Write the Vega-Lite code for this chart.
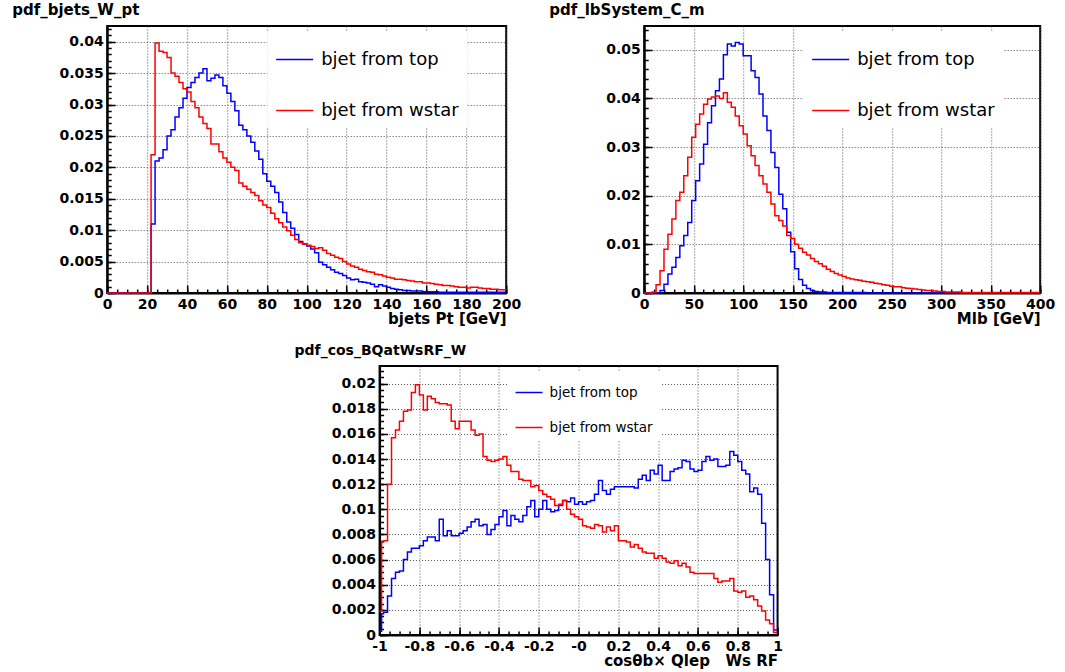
{
"$schema": "https://vega.github.io/schema/vega-lite/v6.json",
"padding": {"left": 11, "top": 2, "right": 5, "bottom": 5},
"background": "white",
"config": {
  "view": {"stroke": "black", "strokeWidth": 2},
  "axis": {"labelFont": "DejaVu Sans", "labelFontSize": 14, "labelFontWeight": "bold", "labelColor": "black", "labelFlush": false, "labelOverlap": false, "tickColor": "black", "tickWidth": 1.5, "domainColor": "black", "domainWidth": 2, "gridColor": "#555555", "gridDash": [1, 2], "gridWidth": 1, "gridOpacity": 1, "titleFont": "DejaVu Sans", "titleFontSize": 15, "titleFontWeight": "bold", "titleColor": "black"},
  "title": {"font": "DejaVu Sans", "fontSize": 15, "fontWeight": "bold", "color": "black", "anchor": "start", "frame": "group", "offset": 8},
  "line": {"interpolate": "step-after", "strokeWidth": 1.5}
},
"datasets": {
"pt": [
{"x":0,"top":0,"wstar":0},{"x":2,"top":0,"wstar":0},{"x":4,"top":0,"wstar":0},{"x":6,"top":0,"wstar":0},{"x":8,"top":0,"wstar":0},{"x":10,"top":0,"wstar":0},{"x":12,"top":0,"wstar":0},{"x":14,"top":0,"wstar":0},{"x":16,"top":0,"wstar":0},{"x":18,"top":0,"wstar":0},{"x":20,"top":0,"wstar":0},
{"x":22,"top":0.011,"wstar":0.022},{"x":24,"top":0.021,"wstar":0.0398},{"x":26,"top":0.0215,"wstar":0.0385},{"x":28,"top":0.0228,"wstar":0.0383},{"x":30,"top":0.025,"wstar":0.0375},{"x":32,"top":0.026,"wstar":0.035},{"x":34,"top":0.028,"wstar":0.0345},{"x":36,"top":0.0295,"wstar":0.0335},{"x":38,"top":0.031,"wstar":0.0325},{"x":40,"top":0.0327,"wstar":0.032},
{"x":42,"top":0.0335,"wstar":0.0305},{"x":44,"top":0.0343,"wstar":0.0295},{"x":46,"top":0.035,"wstar":0.028},{"x":48,"top":0.0357,"wstar":0.027},{"x":50,"top":0.0338,"wstar":0.0262},{"x":52,"top":0.0342,"wstar":0.0237},{"x":54,"top":0.0347,"wstar":0.0237},{"x":56,"top":0.0343,"wstar":0.0225},{"x":58,"top":0.033,"wstar":0.0215},{"x":60,"top":0.0318,"wstar":0.0208},
{"x":62,"top":0.0305,"wstar":0.02},{"x":64,"top":0.029,"wstar":0.0195},{"x":66,"top":0.0267,"wstar":0.0175},{"x":68,"top":0.026,"wstar":0.017},{"x":70,"top":0.025,"wstar":0.0165},{"x":72,"top":0.024,"wstar":0.016},{"x":74,"top":0.0226,"wstar":0.0155},{"x":76,"top":0.0213,"wstar":0.0147},{"x":78,"top":0.019,"wstar":0.014},{"x":80,"top":0.0178,"wstar":0.0136},
{"x":82,"top":0.017,"wstar":0.0127},{"x":84,"top":0.016,"wstar":0.0118},{"x":86,"top":0.0145,"wstar":0.0112},{"x":88,"top":0.0128,"wstar":0.0105},{"x":90,"top":0.0113,"wstar":0.0099},{"x":92,"top":0.0103,"wstar":0.0092},{"x":94,"top":0.0093,"wstar":0.0085},{"x":96,"top":0.0082,"wstar":0.008},{"x":98,"top":0.0078,"wstar":0.0078},{"x":100,"top":0.0075,"wstar":0.0076},
{"x":102,"top":0.007,"wstar":0.0074},{"x":104,"top":0.0064,"wstar":0.0071},{"x":106,"top":0.0049,"wstar":0.0072},{"x":108,"top":0.0045,"wstar":0.0068},{"x":110,"top":0.0041,"wstar":0.0063},{"x":112,"top":0.0037,"wstar":0.006},{"x":114,"top":0.0033,"wstar":0.0057},{"x":116,"top":0.0031,"wstar":0.0055},{"x":118,"top":0.0028,"wstar":0.005},{"x":120,"top":0.0024,"wstar":0.0046},
{"x":122,"top":0.0021,"wstar":0.0043},{"x":124,"top":0.0022,"wstar":0.0041},{"x":126,"top":0.0018,"wstar":0.0038},{"x":128,"top":0.0017,"wstar":0.0036},{"x":130,"top":0.0016,"wstar":0.0034},{"x":132,"top":0.0014,"wstar":0.0033},{"x":134,"top":0.001,"wstar":0.003},{"x":136,"top":0.0013,"wstar":0.0029},{"x":138,"top":0.0011,"wstar":0.0027},{"x":140,"top":0.0009,"wstar":0.0025},
{"x":142,"top":0.0007,"wstar":0.0024},{"x":144,"top":0.0006,"wstar":0.0022},{"x":146,"top":0.0005,"wstar":0.0022},{"x":148,"top":0.0004,"wstar":0.0021},{"x":150,"top":0.0004,"wstar":0.002},{"x":152,"top":0.0003,"wstar":0.0019},{"x":154,"top":0.0003,"wstar":0.0018},{"x":156,"top":0.0003,"wstar":0.0018},{"x":158,"top":0.0002,"wstar":0.0016},{"x":160,"top":0.0002,"wstar":0.0016},
{"x":162,"top":0.0002,"wstar":0.0015},{"x":164,"top":0.0002,"wstar":0.0014},{"x":166,"top":0.0001,"wstar":0.0013},{"x":168,"top":0.0001,"wstar":0.0012},{"x":170,"top":0.0001,"wstar":0.0012},{"x":172,"top":0.0001,"wstar":0.0011},{"x":174,"top":0.0001,"wstar":0.001},{"x":176,"top":0.0001,"wstar":0.0009},{"x":178,"top":0.0001,"wstar":0.0009},{"x":180,"top":0.0001,"wstar":0.0008},
{"x":182,"top":0.0001,"wstar":0.0009},{"x":184,"top":0.0001,"wstar":0.0009},{"x":186,"top":0.0001,"wstar":0.0008},{"x":188,"top":0.0001,"wstar":0.0007},{"x":190,"top":0.0001,"wstar":0.0007},{"x":192,"top":0.0001,"wstar":0.0006},{"x":194,"top":0.0001,"wstar":0.0006},{"x":196,"top":0.0001,"wstar":0.0005},{"x":198,"top":0.0001,"wstar":0.0005},{"x":200,"top":0.0001,"wstar":0.0005}
],
"mlb": [
{"x":0,"top":0,"wstar":0},{"x":4,"top":0,"wstar":0},{"x":8,"top":0,"wstar":0.0002},{"x":12,"top":0,"wstar":0.0017},{"x":16,"top":0.0005,"wstar":0.0046},{"x":20,"top":0.0018,"wstar":0.009},{"x":24,"top":0.0039,"wstar":0.0121},{"x":28,"top":0.0053,"wstar":0.0152},{"x":32,"top":0.0073,"wstar":0.019},{"x":36,"top":0.0097,"wstar":0.0207},
{"x":40,"top":0.0118,"wstar":0.0241},{"x":44,"top":0.0145,"wstar":0.0279},{"x":48,"top":0.019,"wstar":0.032},{"x":52,"top":0.0231,"wstar":0.0347},{"x":56,"top":0.0265,"wstar":0.0368},{"x":60,"top":0.0306,"wstar":0.0388},{"x":64,"top":0.035,"wstar":0.0399},{"x":68,"top":0.0385,"wstar":0.0403},{"x":72,"top":0.0416,"wstar":0.0405},{"x":76,"top":0.044,"wstar":0.04},
{"x":80,"top":0.049,"wstar":0.0412},{"x":84,"top":0.0512,"wstar":0.0392},{"x":88,"top":0.0508,"wstar":0.0382},{"x":92,"top":0.0515,"wstar":0.0364},{"x":96,"top":0.0512,"wstar":0.0344},{"x":100,"top":0.0488,"wstar":0.0327},{"x":104,"top":0.0488,"wstar":0.0303},{"x":108,"top":0.0457,"wstar":0.0282},{"x":112,"top":0.0443,"wstar":0.0262},{"x":116,"top":0.0409,"wstar":0.0241},
{"x":120,"top":0.0364,"wstar":0.0224},{"x":124,"top":0.0334,"wstar":0.0207},{"x":128,"top":0.0289,"wstar":0.0183},{"x":132,"top":0.0258,"wstar":0.0159},{"x":136,"top":0.0203,"wstar":0.0149},{"x":140,"top":0.0173,"wstar":0.0138},{"x":144,"top":0.0125,"wstar":0.0118},{"x":148,"top":0.0085,"wstar":0.0112},{"x":152,"top":0.005,"wstar":0.01},{"x":156,"top":0.0028,"wstar":0.0092},
{"x":160,"top":0.0016,"wstar":0.0084},{"x":164,"top":0.0009,"wstar":0.0078},{"x":168,"top":0.0005,"wstar":0.0071},{"x":172,"top":0.0003,"wstar":0.0065},{"x":176,"top":0.0002,"wstar":0.006},{"x":180,"top":0.0002,"wstar":0.0055},{"x":184,"top":0.0001,"wstar":0.0049},{"x":188,"top":0.0001,"wstar":0.0044},{"x":192,"top":0.0001,"wstar":0.004},{"x":196,"top":0.0001,"wstar":0.0037},
{"x":200,"top":0.0001,"wstar":0.0034},{"x":204,"top":0.0001,"wstar":0.0031},{"x":208,"top":0.0001,"wstar":0.0029},{"x":212,"top":0.0001,"wstar":0.0027},{"x":216,"top":0.0001,"wstar":0.0026},{"x":220,"top":0.0001,"wstar":0.0024},{"x":224,"top":0,"wstar":0.0023},{"x":228,"top":0,"wstar":0.0022},{"x":232,"top":0,"wstar":0.002},{"x":236,"top":0,"wstar":0.0019},
{"x":240,"top":0,"wstar":0.0017},{"x":244,"top":0,"wstar":0.0016},{"x":248,"top":0,"wstar":0.0014},{"x":252,"top":0,"wstar":0.0013},{"x":256,"top":0,"wstar":0.0013},{"x":260,"top":0,"wstar":0.0011},{"x":264,"top":0,"wstar":0.001},{"x":268,"top":0,"wstar":0.0009},{"x":272,"top":0,"wstar":0.0008},{"x":276,"top":0,"wstar":0.0007},
{"x":280,"top":0,"wstar":0.0006},{"x":284,"top":0,"wstar":0.0005},{"x":288,"top":0,"wstar":0.0005},{"x":292,"top":0,"wstar":0.0004},{"x":296,"top":0,"wstar":0.0003},{"x":300,"top":0,"wstar":0.0003},{"x":304,"top":0,"wstar":0.0002},{"x":308,"top":0,"wstar":0.0002},{"x":312,"top":0,"wstar":0.0002},{"x":316,"top":0,"wstar":0.0002},
{"x":320,"top":0,"wstar":0.0001},{"x":324,"top":0,"wstar":0.0001},{"x":328,"top":0,"wstar":0.0001},{"x":332,"top":0,"wstar":0.0001},{"x":336,"top":0,"wstar":0.0001},{"x":340,"top":0,"wstar":0.0001},{"x":344,"top":0,"wstar":0.0001},{"x":348,"top":0,"wstar":0.0001},{"x":352,"top":0,"wstar":0.0001},{"x":356,"top":0,"wstar":0.0001},
{"x":360,"top":0,"wstar":0.0001},{"x":364,"top":0,"wstar":0.0001},{"x":368,"top":0,"wstar":0.0001},{"x":372,"top":0,"wstar":0.0001},{"x":376,"top":0,"wstar":0.0001},{"x":380,"top":0,"wstar":0.0001},{"x":384,"top":0,"wstar":0.0001},{"x":388,"top":0,"wstar":0.0001},{"x":392,"top":0,"wstar":0.0001},{"x":396,"top":0,"wstar":0.0001},{"x":400,"top":0,"wstar":0.0001}
],
"cos": [
{"x":-1,"top":0.0003,"wstar":0.0019},{"x":-0.99,"top":0.0017,"wstar":0.0074},{"x":-0.98,"top":0.0018,"wstar":0.0075},{"x":-0.96,"top":0.0031,"wstar":0.012},{"x":-0.94,"top":0.0045,"wstar":0.0157},{"x":-0.92,"top":0.005,"wstar":0.0163},{"x":-0.9,"top":0.0051,"wstar":0.017},{"x":-0.88,"top":0.006,"wstar":0.0178},{"x":-0.86,"top":0.0066,"wstar":0.0179},{"x":-0.84,"top":0.0069,"wstar":0.0193},
{"x":-0.82,"top":0.0069,"wstar":0.0199},{"x":-0.8,"top":0.0071,"wstar":0.0191},{"x":-0.78,"top":0.0075,"wstar":0.0179},{"x":-0.76,"top":0.0078,"wstar":0.019},{"x":-0.74,"top":0.0078,"wstar":0.0188},{"x":-0.72,"top":0.0075,"wstar":0.0185},{"x":-0.7,"top":0.0092,"wstar":0.0184},{"x":-0.68,"top":0.0079,"wstar":0.0184},{"x":-0.66,"top":0.0083,"wstar":0.0183},{"x":-0.64,"top":0.0079,"wstar":0.017},
{"x":-0.62,"top":0.0079,"wstar":0.0164},{"x":-0.6,"top":0.0081,"wstar":0.017},{"x":-0.58,"top":0.0083,"wstar":0.017},{"x":-0.56,"top":0.0086,"wstar":0.017},{"x":-0.54,"top":0.009,"wstar":0.0163},{"x":-0.52,"top":0.0092,"wstar":0.0159},{"x":-0.5,"top":0.0087,"wstar":0.016},{"x":-0.48,"top":0.0088,"wstar":0.0142},{"x":-0.46,"top":0.008,"wstar":0.0139},{"x":-0.44,"top":0.0084,"wstar":0.0138},
{"x":-0.42,"top":0.0088,"wstar":0.0139},{"x":-0.4,"top":0.0094,"wstar":0.014},{"x":-0.38,"top":0.0099,"wstar":0.0142},{"x":-0.36,"top":0.0087,"wstar":0.0135},{"x":-0.34,"top":0.0095,"wstar":0.013},{"x":-0.32,"top":0.0092,"wstar":0.013},{"x":-0.3,"top":0.009,"wstar":0.0124},{"x":-0.28,"top":0.0095,"wstar":0.0123},{"x":-0.26,"top":0.0102,"wstar":0.0123},{"x":-0.24,"top":0.0107,"wstar":0.0118},
{"x":-0.22,"top":0.0094,"wstar":0.0119},{"x":-0.2,"top":0.01,"wstar":0.0115},{"x":-0.18,"top":0.0107,"wstar":0.0112},{"x":-0.16,"top":0.01,"wstar":0.011},{"x":-0.14,"top":0.0098,"wstar":0.0108},{"x":-0.12,"top":0.0099,"wstar":0.0103},{"x":-0.1,"top":0.0103,"wstar":0.0104},{"x":-0.08,"top":0.0107,"wstar":0.0107},{"x":-0.06,"top":0.0106,"wstar":0.01},{"x":-0.04,"top":0.0109,"wstar":0.0096},
{"x":-0.02,"top":0.0104,"wstar":0.0094},{"x":0,"top":0.0106,"wstar":0.0092},{"x":0.02,"top":0.0104,"wstar":0.0087},{"x":0.04,"top":0.0106,"wstar":0.0086},{"x":0.06,"top":0.0107,"wstar":0.0085},{"x":0.08,"top":0.0112,"wstar":0.0088},{"x":0.1,"top":0.0123,"wstar":0.0087},{"x":0.12,"top":0.0115,"wstar":0.0082},{"x":0.14,"top":0.0112,"wstar":0.0086},{"x":0.16,"top":0.0116,"wstar":0.0083},
{"x":0.18,"top":0.0118,"wstar":0.0087},{"x":0.2,"top":0.0118,"wstar":0.0075},{"x":0.22,"top":0.0118,"wstar":0.0075},{"x":0.24,"top":0.0118,"wstar":0.0074},{"x":0.26,"top":0.0118,"wstar":0.007},{"x":0.28,"top":0.0117,"wstar":0.0072},{"x":0.3,"top":0.0124,"wstar":0.0069},{"x":0.32,"top":0.0127,"wstar":0.0066},{"x":0.34,"top":0.0123,"wstar":0.0065},{"x":0.36,"top":0.0131,"wstar":0.0065},
{"x":0.38,"top":0.0128,"wstar":0.0061},{"x":0.4,"top":0.0135,"wstar":0.0063},{"x":0.42,"top":0.0123,"wstar":0.0061},{"x":0.44,"top":0.0123,"wstar":0.0058},{"x":0.46,"top":0.013,"wstar":0.0057},{"x":0.48,"top":0.0132,"wstar":0.0059},{"x":0.5,"top":0.0133,"wstar":0.0055},{"x":0.52,"top":0.0139,"wstar":0.0057},{"x":0.54,"top":0.0138,"wstar":0.0054},{"x":0.56,"top":0.0132,"wstar":0.005},
{"x":0.58,"top":0.013,"wstar":0.0049},{"x":0.6,"top":0.0131,"wstar":0.0049},{"x":0.62,"top":0.0138,"wstar":0.0049},{"x":0.64,"top":0.0142,"wstar":0.0049},{"x":0.66,"top":0.0139,"wstar":0.0049},{"x":0.68,"top":0.014,"wstar":0.0045},{"x":0.7,"top":0.0134,"wstar":0.0042},{"x":0.72,"top":0.0134,"wstar":0.0043},{"x":0.74,"top":0.0135,"wstar":0.0043},{"x":0.76,"top":0.0146,"wstar":0.0045},
{"x":0.78,"top":0.0143,"wstar":0.0035},{"x":0.8,"top":0.0138,"wstar":0.0034},{"x":0.82,"top":0.0131,"wstar":0.0035},{"x":0.84,"top":0.0128,"wstar":0.003},{"x":0.86,"top":0.0114,"wstar":0.0031},{"x":0.88,"top":0.0117,"wstar":0.0028},{"x":0.9,"top":0.0112,"wstar":0.0023},{"x":0.92,"top":0.0089,"wstar":0.0019},{"x":0.94,"top":0.006,"wstar":0.0012},{"x":0.96,"top":0.0032,"wstar":0.0009},
{"x":0.98,"top":0.0004,"wstar":0.0002},{"x":1,"top":0.0004,"wstar":0.0002}
]
},
"vconcat": [
{
"hconcat": [
{
"width": 399, "height": 267,
"title": {"text": "pdf_bjets_W_pt", "dx": -95},
"data": {"name": "pt"},
"transform": [{"fold": ["top", "wstar"], "as": ["series", "y"]}],
"layer": [
{"transform": [{"filter": "datum.series == 'top'"}],
 "mark": {"type": "line", "interpolate": "step-after", "strokeWidth": 1.5},
 "encoding": {
  "x": {"field": "x", "type": "quantitative", "scale": {"domain": [0, 200], "nice": false, "zero": false},
        "axis": {"orient": "bottom", "values": [0,20,40,60,80,100,120,140,160,180,200], "format": "d", "grid": true, "tickSize": -8, "labelPadding": 12, "title": "bjets Pt [GeV]", "titleAnchor": "end", "titlePadding": 0}},
  "y": {"field": "y", "type": "quantitative", "scale": {"domain": [0, 0.0425], "nice": false},
        "axis": {"orient": "left", "values": [0,0.005,0.01,0.015,0.02,0.025,0.03,0.035,0.04], "format": "~g", "grid": true, "tickSize": -8, "labelPadding": 12, "title": null}},
  "color": {"field": "series", "type": "nominal", "scale": {"domain": ["top", "wstar"], "range": ["#0000ff", "#ff0000"]},
        "legend": {"orient": "none", "legendX": 160, "legendY": 6, "title": null, "direction": "vertical", "symbolType": "stroke", "symbolSize": 1369, "symbolStrokeWidth": 1.5, "labelFont": "DejaVu Sans", "labelFontSize": 18, "labelColor": "black", "labelExpr": "'bjet from ' + datum.label", "rowPadding": 22, "labelOffset": 7, "fillColor": "white", "padding": 8}}
 }},
{"transform": [{"filter": "datum.series == 'wstar'"}],
 "mark": {"type": "line", "interpolate": "step-after", "strokeWidth": 1.5},
 "encoding": {
  "x": {"field": "x", "type": "quantitative", "scale": {"domain": [0, 200], "nice": false, "zero": false},
        "axis": {"orient": "bottom", "values": [0,5,10,15,20,25,30,35,40,45,50,55,60,65,70,75,80,85,90,95,100,105,110,115,120,125,130,135,140,145,150,155,160,165,170,175,180,185,190,195,200], "labels": false, "grid": false, "domain": false, "tickSize": -4, "title": null}},
  "y": {"field": "y", "type": "quantitative", "scale": {"domain": [0, 0.0425], "nice": false},
        "axis": {"orient": "left", "values": [0,0.001,0.002,0.003,0.004,0.005,0.006,0.007,0.008,0.009,0.01,0.011,0.012,0.013,0.014,0.015,0.016,0.017,0.018,0.019,0.02,0.021,0.022,0.023,0.024,0.025,0.026,0.027,0.028,0.029,0.03,0.031,0.032,0.033,0.034,0.035,0.036,0.037,0.038,0.039,0.04,0.041,0.042], "labels": false, "grid": false, "domain": false, "tickSize": -4, "title": null}},
  "color": {"field": "series", "type": "nominal", "scale": {"domain": ["top", "wstar"], "range": ["#0000ff", "#ff0000"]}}
 }}
],
"resolve": {"axis": {"x": "independent", "y": "independent"}}
},
{
"width": 396, "height": 267,
"title": {"text": "pdf_lbSystem_C_m", "dx": -95},
"data": {"name": "mlb"},
"transform": [{"fold": ["top", "wstar"], "as": ["series", "y"]}],
"layer": [
{"transform": [{"filter": "datum.series == 'top'"}],
 "mark": {"type": "line", "interpolate": "step-after", "strokeWidth": 1.5},
 "encoding": {
  "x": {"field": "x", "type": "quantitative", "scale": {"domain": [0, 400], "nice": false, "zero": false},
        "axis": {"orient": "bottom", "values": [0,50,100,150,200,250,300,350,400], "format": "d", "grid": true, "tickSize": -8, "labelPadding": 12, "title": "Mlb [GeV]", "titleAnchor": "end", "titlePadding": 0}},
  "y": {"field": "y", "type": "quantitative", "scale": {"domain": [0, 0.0549], "nice": false},
        "axis": {"orient": "left", "values": [0,0.01,0.02,0.03,0.04,0.05], "format": "~g", "grid": true, "tickSize": -8, "labelPadding": 12, "title": null}},
  "color": {"field": "series", "type": "nominal", "scale": {"domain": ["top", "wstar"], "range": ["#0000ff", "#ff0000"]},
        "legend": {"orient": "none", "legendX": 159, "legendY": 6, "title": null, "direction": "vertical", "symbolType": "stroke", "symbolSize": 1369, "symbolStrokeWidth": 1.5, "labelFont": "DejaVu Sans", "labelFontSize": 18, "labelColor": "black", "labelExpr": "'bjet from ' + datum.label", "rowPadding": 22, "labelOffset": 7, "fillColor": "white", "padding": 8}}
 }},
{"transform": [{"filter": "datum.series == 'wstar'"}],
 "mark": {"type": "line", "interpolate": "step-after", "strokeWidth": 1.5},
 "encoding": {
  "x": {"field": "x", "type": "quantitative", "scale": {"domain": [0, 400], "nice": false, "zero": false},
        "axis": {"orient": "bottom", "values": [0,10,20,30,40,50,60,70,80,90,100,110,120,130,140,150,160,170,180,190,200,210,220,230,240,250,260,270,280,290,300,310,320,330,340,350,360,370,380,390,400], "labels": false, "grid": false, "domain": false, "tickSize": -4, "title": null}},
  "y": {"field": "y", "type": "quantitative", "scale": {"domain": [0, 0.0549], "nice": false},
        "axis": {"orient": "left", "values": [0,0.002,0.004,0.006,0.008,0.01,0.012,0.014,0.016,0.018,0.02,0.022,0.024,0.026,0.028,0.03,0.032,0.034,0.036,0.038,0.04,0.042,0.044,0.046,0.048,0.05,0.052,0.054], "labels": false, "grid": false, "domain": false, "tickSize": -4, "title": null}},
  "color": {"field": "series", "type": "nominal", "scale": {"domain": ["top", "wstar"], "range": ["#0000ff", "#ff0000"]}}
 }}
],
"resolve": {"axis": {"x": "independent", "y": "independent"}}
}
],
"spacing": 26,
"resolve": {"scale": {"color": "independent"}, "legend": {"color": "independent"}}
},
{
"width": 398, "height": 269,
"title": {"text": "pdf_cos_BQatWsRF_W", "dx": -85, "fontSize": 14},
"data": {"name": "cos"},
"transform": [{"fold": ["top", "wstar"], "as": ["series", "y"]}],
"layer": [
{"transform": [{"filter": "datum.series == 'top'"}],
 "mark": {"type": "line", "interpolate": "step-after", "strokeWidth": 1.5},
 "encoding": {
  "x": {"field": "x", "type": "quantitative", "scale": {"domain": [-1, 1], "nice": false, "zero": false},
        "axis": {"orient": "bottom", "values": [-1,-0.8,-0.6,-0.4,-0.2,0,0.2,0.4,0.6,0.8,1], "labelExpr": "datum.value == 0 ? '-0' : '' + datum.value", "grid": true, "tickSize": -8, "labelPadding": 12, "title": "cosθb× Qlep\u00a0\u00a0 Ws RF", "titleAnchor": "end", "titlePadding": 0}},
  "y": {"field": "y", "type": "quantitative", "scale": {"domain": [0, 0.0214], "nice": false},
        "axis": {"orient": "left", "values": [0,0.002,0.004,0.006,0.008,0.01,0.012,0.014,0.016,0.018,0.02], "format": "~g", "grid": true, "tickSize": -8, "labelPadding": 12, "title": null}},
  "color": {"field": "series", "type": "nominal", "scale": {"domain": ["top", "wstar"], "range": ["#0000ff", "#ff0000"]},
        "legend": {"orient": "none", "legendX": 128, "legendY": 5, "title": null, "direction": "vertical", "symbolType": "stroke", "symbolSize": 729, "symbolStrokeWidth": 1.5, "labelFont": "DejaVu Sans", "labelFontSize": 13.5, "labelColor": "black", "labelExpr": "'bjet from ' + datum.label", "rowPadding": 14, "labelOffset": 6, "fillColor": "white", "padding": 7}}
 }},
{"transform": [{"filter": "datum.series == 'wstar'"}],
 "mark": {"type": "line", "interpolate": "step-after", "strokeWidth": 1.5},
 "encoding": {
  "x": {"field": "x", "type": "quantitative", "scale": {"domain": [-1, 1], "nice": false, "zero": false},
        "axis": {"orient": "bottom", "values": [-1,-0.95,-0.9,-0.85,-0.8,-0.75,-0.7,-0.65,-0.6,-0.55,-0.5,-0.45,-0.4,-0.35,-0.3,-0.25,-0.2,-0.15,-0.1,-0.05,0,0.05,0.1,0.15,0.2,0.25,0.3,0.35,0.4,0.45,0.5,0.55,0.6,0.65,0.7,0.75,0.8,0.85,0.9,0.95,1], "labels": false, "grid": false, "domain": false, "tickSize": -4, "title": null}},
  "y": {"field": "y", "type": "quantitative", "scale": {"domain": [0, 0.0214], "nice": false},
        "axis": {"orient": "left", "values": [0,0.0005,0.001,0.0015,0.002,0.0025,0.003,0.0035,0.004,0.0045,0.005,0.0055,0.006,0.0065,0.007,0.0075,0.008,0.0085,0.009,0.0095,0.01,0.0105,0.011,0.0115,0.012,0.0125,0.013,0.0135,0.014,0.0145,0.015,0.0155,0.016,0.0165,0.017,0.0175,0.018,0.0185,0.019,0.0195,0.02,0.0205,0.021], "labels": false, "grid": false, "domain": false, "tickSize": -4, "title": null}},
  "color": {"field": "series", "type": "nominal", "scale": {"domain": ["top", "wstar"], "range": ["#0000ff", "#ff0000"]}}
 }}
],
"resolve": {"axis": {"x": "independent", "y": "independent"}}
}
],
"spacing": 16,
"center": true,
"resolve": {"scale": {"color": "independent"}, "legend": {"color": "independent"}}
}
